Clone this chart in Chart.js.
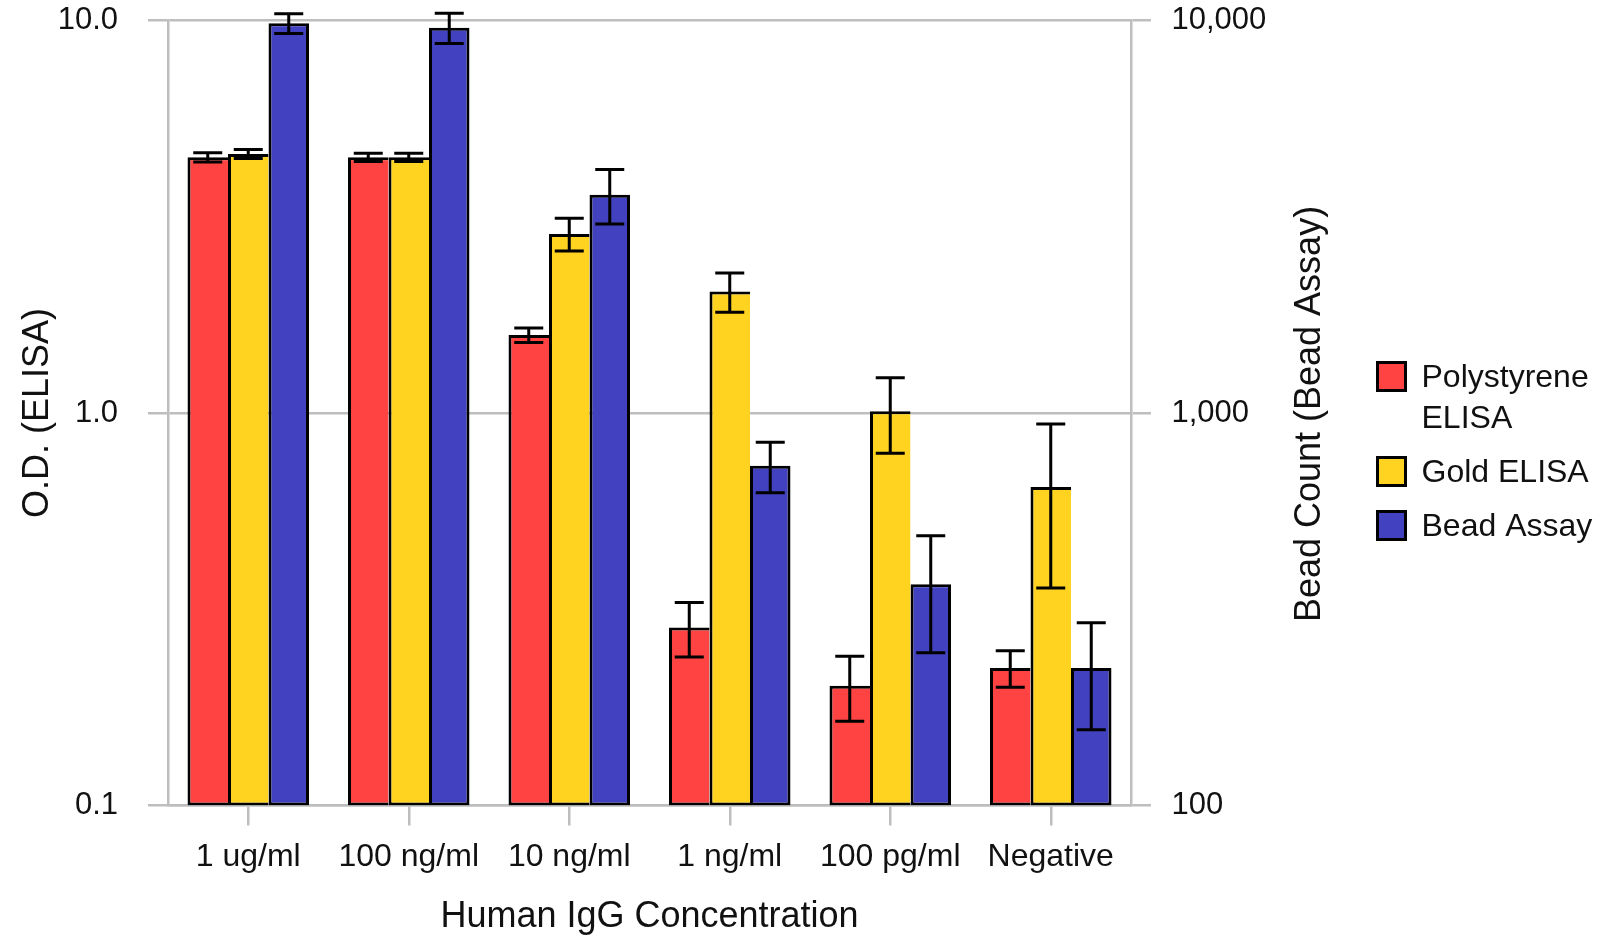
<!DOCTYPE html>
<html>
<head>
<meta charset="utf-8">
<script src="https://cdn.jsdelivr.net/npm/chart.js@4.4.0/dist/chart.umd.min.js"></script>
<style>
  body { margin: 0; background: #fff; }
  #wrap { width: 1602px; height: 936px; position: relative; }
</style>
</head>
<body>
<div id="wrap"><canvas id="chart"></canvas></div>
<script>
// --- data ---
const categories = ['1 ug/ml', '100 ng/ml', '10 ng/ml', '1 ng/ml', '100 pg/ml', 'Negative'];
const seriesNames = ['Polystyrene ELISA', 'Gold ELISA', 'Bead Assay'];
const polystyrene = [4.48, 4.48, 1.58, 0.284, 0.202, 0.224];
const polystyreneErr = [0.12, 0.11, 0.067, 0.045, 0.038, 0.024];
const gold = [4.57, 4.48, 2.86, 2.04, 1.01, 0.648];
const goldErr = [0.12, 0.11, 0.275, 0.235, 0.22, 0.29];
const bead = [9840, 9590, 3600, 734, 366, 224];
const beadErr = [570, 850, 570, 108, 121, 68];
const odTicks = [0.1, 1, 10];
const odTickLabels = ['0.1', '1.0', '10.0'];
const beadTicks = [100, 1000, 10000];
const beadTickLabels = ['100', '1,000', '10,000'];
const xTitle = 'Human IgG Concentration';
const yTitle = 'O.D. (ELISA)';
const y1Title = 'Bead Count (Bead Assay)';

const colors = ['#ff4343', '#ffd320', '#4242c0'];
const gridColor = '#bebebe';
const textColor = '#111';
const FONT = '"Liberation Sans", Arial, sans-serif';

const errors = [polystyreneErr, goldErr, beadErr];

// error bars drawn through each dataset's own y scale
const errorBars = {
    id: 'errorBars',
    afterDatasetsDraw(chart) {
        const ctx = chart.ctx;
        ctx.save();
        ctx.strokeStyle = '#000';
        ctx.lineWidth = 3;
        chart.data.datasets.forEach((ds, di) => {
            const meta = chart.getDatasetMeta(di);
            const scale = chart.scales[ds.yAxisID];
            meta.data.forEach((bar, j) => {
                const v = ds.data[j];
                const e = errors[di][j];
                const yHi = scale.getPixelForValue(v + e);
                const yLo = scale.getPixelForValue(v - e);
                const x = bar.x;
                ctx.beginPath();
                ctx.moveTo(x, yHi); ctx.lineTo(x, yLo);
                ctx.moveTo(x - 14.5, yHi); ctx.lineTo(x + 14.5, yHi);
                ctx.moveTo(x - 14.5, yLo); ctx.lineTo(x + 14.5, yLo);
                ctx.stroke();
            });
        });
        ctx.restore();
    }
};

// right axis title (reads bottom-to-top) and the legend
const extras = {
    id: 'extras',
    afterDraw(chart) {
        const ctx = chart.ctx;
        const area = chart.chartArea;
        ctx.save();
        ctx.fillStyle = textColor;
        ctx.font = '36px ' + FONT;
        ctx.translate(1310.5, (area.top + area.bottom) / 2 + 1);
        ctx.rotate(-Math.PI / 2);
        ctx.textAlign = 'center';
        ctx.textBaseline = 'middle';
        ctx.fillText(y1Title, 0, 0);
        ctx.restore();

        // legend
        ctx.save();
        ctx.font = '32px ' + FONT;
        ctx.textBaseline = 'alphabetic';
        ctx.textAlign = 'left';
        const boxX = 1377.5, textX = 1421.5, maxW = 1602 - textX;
        let baseline = 387;
        chart.data.datasets.forEach((ds, i) => {
            // simple word wrap
            const words = ds.label.split(' ');
            const lines = [];
            let cur = '';
            words.forEach(w => {
                const t = cur ? cur + ' ' + w : w;
                if (ctx.measureText(t).width > maxW && cur) { lines.push(cur); cur = w; }
                else cur = t;
            });
            lines.push(cur);
            const cy = baseline - 10.5;
            ctx.fillStyle = ds.backgroundColor;
            ctx.fillRect(boxX, cy - 14, 28, 28);
            ctx.strokeStyle = '#000';
            ctx.lineWidth = 3;
            ctx.strokeRect(boxX, cy - 14, 28, 28);
            ctx.fillStyle = textColor;
            lines.forEach((ln, k) => ctx.fillText(ln, textX, baseline + k * 41));
            baseline += (lines.length - 1) * 41 + 54;
        });
        ctx.restore();
    }
};

const sideBorder = { top: 3, left: 3, bottom: 3, right: 0 };
const fullBorder = { top: 3, left: 3, bottom: 3, right: 3 };

// keep the tick label padding from pushing the plot area in
function fixVertical(width) {
    return s => {
        s.width = width;
        s.paddingTop = 0;
        s.paddingBottom = 0;
    };
}

new Chart(document.getElementById('chart'), {
    type: 'bar',
    data: {
        labels: categories,
        datasets: [
            { label: seriesNames[0], data: polystyrene, yAxisID: 'y', backgroundColor: colors[0], borderWidth: sideBorder },
            { label: seriesNames[1], data: gold, yAxisID: 'y', backgroundColor: colors[1], borderWidth: sideBorder },
            { label: seriesNames[2], data: bead, yAxisID: 'y1', backgroundColor: colors[2], borderWidth: fullBorder }
        ]
    },
    options: {
        responsive: true,
        maintainAspectRatio: false,
        animation: false,
        devicePixelRatio: 1,
        layout: { padding: { top: 20.5, left: 0, right: 0, bottom: 0 } },
        datasets: {
            bar: {
                borderColor: '#000',
                borderSkipped: false,
                inflateAmount: 0,
                categoryPercentage: 0.757,
                barPercentage: 1.0
            }
        },
        scales: {
            x: {
                type: 'category',
                offset: true,
                grid: { offset: false, drawOnChartArea: false, drawTicks: true, tickLength: 20, color: gridColor, lineWidth: 2.5 },
                border: { display: true, color: gridColor, width: 2.5 },
                ticks: { color: textColor, font: { family: FONT, size: 32 }, padding: 12.5, maxRotation: 0, autoSkip: false },
                title: { display: true, text: xTitle, color: textColor, font: { family: FONT, size: 36, lineHeight: 1 }, padding: { top: 0, bottom: 0.5 } },
                afterFit: s => { s.height = 130.5; s.paddingLeft = 0; s.paddingRight = 0; }
            },
            y: {
                type: 'logarithmic',
                position: 'left',
                min: 0.1,
                max: 10,
                afterBuildTicks: s => { s.ticks = odTicks.map(v => ({ value: v })); },
                grid: { drawOnChartArea: true, drawTicks: true, tickLength: 20, color: gridColor, lineWidth: 2.5 },
                border: { display: true, color: gridColor, width: 2.5 },
                ticks: { color: textColor, font: { family: FONT, size: 31 }, padding: 30, callback: (v, i) => odTickLabels[i] },
                title: { display: true, text: yTitle, color: textColor, font: { family: FONT, size: 36 }, padding: { top: 16, bottom: 0 } },
                afterFit: fixVertical(168)
            },
            y1: {
                type: 'logarithmic',
                position: 'right',
                min: 100,
                max: 10000,
                afterBuildTicks: s => { s.ticks = beadTicks.map(v => ({ value: v })); },
                grid: { drawOnChartArea: false, drawTicks: true, tickLength: 20, color: gridColor, lineWidth: 2.5 },
                border: { display: true, color: gridColor, width: 2.5 },
                ticks: { color: textColor, font: { family: FONT, size: 31 }, padding: 20.5, callback: (v, i) => beadTickLabels[i] },
                title: { display: false },
                afterFit: fixVertical(471)
            }
        },
        plugins: {
            legend: { display: false },
            tooltip: { enabled: false }
        }
    },
    plugins: [errorBars, extras]
});
</script>
</body>
</html>
